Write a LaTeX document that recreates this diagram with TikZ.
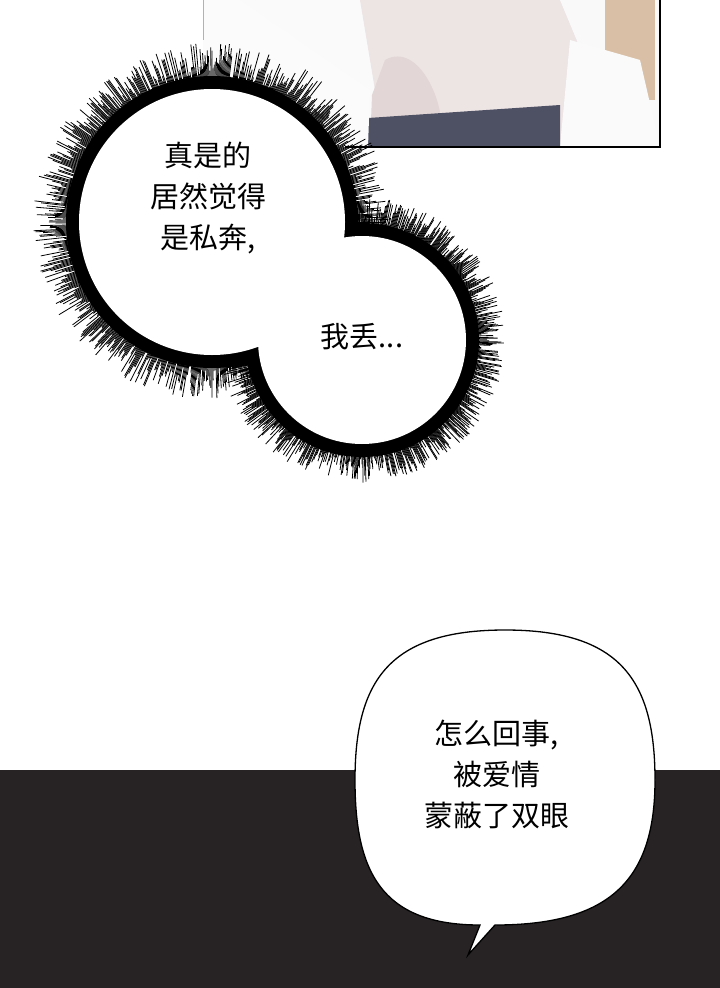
\documentclass[tikz,border=0pt]{standalone}
\usepackage{fontspec}
\usetikzlibrary{calc}
\newfontfamily\cjk{Noto Sans CJK SC}
\definecolor{band}{HTML}{272324}
\definecolor{skin}{HTML}{EDE4E4}
\definecolor{skin2}{HTML}{E2D6D6}
\definecolor{navy}{HTML}{4E5163}
\definecolor{hair}{HTML}{D9BFA6}
\begin{document}
\begin{tikzpicture}[x=1pt,y=-1pt,
  txt/.style={font=\cjk\fontsize{29}{41}\selectfont,align=center,text=black},
  spike/.style={line width=0.8pt,black}]
\pgfmathsetseed{7}
\useasboundingbox (0,0) rectangle (720,988);
\fill[white] (0,0) rectangle (720,988);
% top panel
\fill[white!96!gray] (203,0) rectangle (660,147);
\fill[skin] (360,0) -- (600,0) -- (600,147) -- (370,147) -- (375,90) -- cycle;
\fill[skin2] (385,60) .. controls (420,40) and (450,110) .. (440,147) -- (370,147) -- (372,95) -- cycle;
\fill[white!95!gray] (560,0) -- (660,0) -- (660,147) -- (560,147) -- (585,60) -- cycle;
\fill[hair] (605,0) rectangle (655,100);
\fill[white!96!gray] (570,40) -- (640,60) -- (660,147) -- (560,147) -- cycle;
\fill[navy] (368,118) -- (560,105) -- (560,147) -- (368,147) -- cycle;
\fill[white!97!gray] (203,0) -- (240,0) -- (370,90) -- (368,147) -- (203,147) -- cycle;
\draw[line width=2pt] (660,0) -- (660,147) -- (345,147);
\draw[gray!60,line width=0.7pt] (203,0) -- (203,40);
% spiky bubbles
\coordinate (c1) at (212,222);
\coordinate (c2) at (362,340);
\foreach \a in {0,0.4,...,359.6}{
  \pgfmathsetmacro\L{133+10+rnd*36}
  \draw[spike] ($(c1)+(\a:125)$) -- ($(c1)+(\a:\L)$);
  \pgfmathsetmacro\M{105+8+rnd*30}
  \draw[spike] ($(c2)+(\a:100)$) -- ($(c2)+(\a:\M)$);
}
\fill[black] (c1) circle (146);
\fill[black] (c2) circle (117);
\fill[white] (c1) circle (133);
\fill[white] (c2) circle (104);
\node[txt] (t1) at (208,198) {真是的\\居然觉得\\是私奔,};
\node[txt] (t2) at (362,337) {我丢...};
% dark band
\fill[band] (0,770) rectangle (720,988);
% speech bubble
\draw[fill=white,line width=1.3pt] (480,925)
  .. controls (380,925) and (355,870) .. (355,780)
  .. controls (355,680) and (390,630) .. (505,630)
  .. controls (620,630) and (655,680) .. (655,780)
  .. controls (655,880) and (610,925) .. (495,925)
  -- (468,955) -- cycle;
\node[txt] (t3) at (497,774) {怎么回事,\\被爱情\\蒙蔽了双眼};
\end{tikzpicture}
\end{document}
